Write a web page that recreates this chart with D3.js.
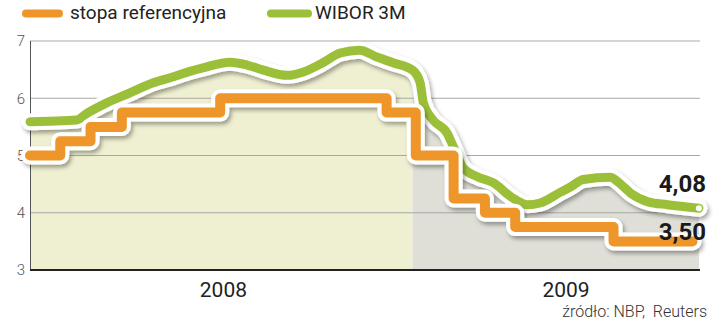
<!DOCTYPE html>
<html>
<head>
<meta charset="utf-8">
<script src="https://cdn.jsdelivr.net/npm/d3@7"></script>
<style>
  body { margin: 0; background: #fff; }
  svg { display: block; font-family: Roboto, "Noto Sans", sans-serif; }
</style>
</head>
<body>
<div id="chart"></div>
<script>
// stopa referencyjna NBP (daty zmian)
const refDates = ["2008-01-02", "2008-01-30", "2008-02-27", "2008-03-27", "2008-06-26",
  "2008-11-27", "2008-12-24", "2009-01-28", "2009-02-26", "2009-03-26", "2009-06-25", "2009-09-06"];
const refRates = [5.00, 5.25, 5.50, 5.75, 6.00, 5.75, 5.00, 4.25, 4.00, 3.75, 3.50, 3.50];

// WIBOR 3M
const wiborDates = ["2008-01-02", "2008-01-20", "2008-02-14", "2008-02-24", "2008-03-13",
  "2008-04-03", "2008-04-25", "2008-05-13", "2008-05-29", "2008-06-10", "2008-07-05",
  "2008-07-21", "2008-08-05", "2008-08-27", "2008-09-11", "2008-09-29", "2008-10-15",
  "2008-11-02", "2008-11-18", "2008-12-03", "2008-12-21", "2008-12-28", "2008-12-31",
  "2009-01-09", "2009-01-22", "2009-01-29", "2009-02-06", "2009-02-19", "2009-03-06",
  "2009-03-22", "2009-04-06", "2009-04-18", "2009-05-07", "2009-05-16", "2009-05-28",
  "2009-06-22", "2009-06-29", "2009-07-11", "2009-07-27", "2009-08-14", "2009-09-12"];
const wiborValues = [5.59, 5.60, 5.62, 5.74, 5.92, 6.09, 6.27, 6.37, 6.47, 6.53, 6.63,
  6.58, 6.49, 6.40, 6.46, 6.62, 6.79, 6.84, 6.72, 6.62, 6.49, 6.27, 5.92,
  5.62, 5.39, 5.10, 4.78, 4.63, 4.52, 4.28, 4.14, 4.17, 4.36, 4.45, 4.58,
  4.62, 4.54, 4.34, 4.19, 4.14, 4.08];

const yTicks = [3, 4, 5, 6, 7];
const gridTicks = [4, 5, 6, 7];
// granice lat (tło pod krzywą)
const bandEdges = ["2008-01-02", "2008-12-21", "2009-09-14"];
const yearLabels = ["2008", "2009"];
const yearLabelDates = ["2008-06-29", "2009-05-12"];
const endLabels = ["4,08", "3,50"];

const parse = d3.timeParse("%Y-%m-%d");

let width = 720, height = 334;
let svg = d3.select("#chart").append("svg")
  .attr("width", width)
  .attr("height", height);

//============ skale ============
let x = d3.scaleTime()
  .domain([parse("2008-01-02"), parse("2009-09-13")])
  .range([30, 700]);

let y = d3.scaleLinear()
  .domain([3, 7])
  .range([270, 41]);

let refData = refDates.map((d, i) => ({ date: parse(d), v: refRates[i] }));
let wiborData = wiborDates.map((d, i) => ({ date: parse(d), v: wiborValues[i] }));

//============ cień ============
let defs = svg.append("defs");
defs.append("filter")
  .attr("id", "shadow")
  .attr("x", "-10%").attr("y", "-10%")
  .attr("width", "120%").attr("height", "130%")
  .append("feDropShadow")
  .attr("dx", 2).attr("dy", 3)
  .attr("stdDeviation", 2.2)
  .attr("flood-color", "#000")
  .attr("flood-opacity", 0.35);

const bandColors = ["#efefd1", "#dfdfd8"];
bandColors.forEach((c, i) => {
  defs.append("clipPath")
    .attr("id", "band" + i)
    .append("rect")
    .attr("x", x(parse(bandEdges[i])))
    .attr("y", 0)
    .attr("width", x(parse(bandEdges[i + 1])) - x(parse(bandEdges[i])))
    .attr("height", height);
});

//============ pole pod WIBOR ============
let area = d3.area()
  .x(d => x(d.date))
  .y0(y(3))
  .y1(d => y(d.v))
  .curve(d3.curveMonotoneX);

bandColors.forEach((c, i) => {
  svg.append("path")
    .datum(wiborData)
    .attr("clip-path", `url(#band${i})`)
    .attr("fill", c)
    .attr("d", area);
});

//============ siatka ============
svg.append("g")
  .selectAll("line")
  .data(gridTicks)
  .join("line")
  .attr("x1", 30)
  .attr("x2", 700)
  .attr("y1", d => y(d))
  .attr("y2", d => y(d))
  .attr("stroke", "#a9a9a4")
  .attr("stroke-width", 1);

svg.append("g")
  .selectAll("text")
  .data(yTicks)
  .join("text")
  .attr("x", 25)
  .attr("y", d => y(d))
  .attr("dy", "0.36em")
  .attr("text-anchor", "end")
  .style("font-size", "15px")
  .style("font-weight", 300)
  .attr("fill", "#555")
  .text(d => d);

// oś pionowa i pozioma
svg.append("line")
  .attr("x1", 30.5).attr("x2", 30.5)
  .attr("y1", y(7)).attr("y2", y(3))
  .attr("stroke", "#555");
svg.append("line")
  .attr("x1", 30).attr("x2", 700)
  .attr("y1", y(3)).attr("y2", y(3))
  .attr("stroke", "#222")
  .attr("stroke-width", 2);

//============ linie ============
let wiborLine = d3.line()
  .x(d => x(d.date))
  .y(d => y(d.v))
  .curve(d3.curveMonotoneX);

let refLine = d3.line()
  .x(d => x(d.date))
  .y(d => y(d.v))
  .curve(d3.curveStepAfter);

function drawSeries(data, gen, color, w) {
  let g = svg.append("g");
  g.append("path")
    .datum(data)
    .attr("d", gen)
    .attr("fill", "none")
    .attr("stroke", "#fff")
    .attr("stroke-width", w + 8)
    .attr("stroke-linejoin", "round")
    .attr("stroke-linecap", "round")
    .attr("filter", "url(#shadow)");
  g.append("path")
    .datum(data)
    .attr("d", gen)
    .attr("fill", "none")
    .attr("stroke", color)
    .attr("stroke-width", w)
    .attr("stroke-linejoin", "round")
    .attr("stroke-linecap", "round");
  return g;
}

let gW = drawSeries(wiborData, wiborLine, "#9cbf3a", 9);
let last = wiborData[wiborData.length - 1];
gW.append("circle")
  .attr("cx", x(last.date))
  .attr("cy", y(last.v))
  .attr("r", 3)
  .attr("fill", "#fff");

drawSeries(refData, refLine, "#ee962a", 10);

//============ etykiety końcowe ============
svg.append("text")
  .attr("x", 706).attr("y", 192)
  .attr("text-anchor", "end")
  .style("font-size", "24px")
  .style("font-weight", 700)
  .attr("fill", "#1a1a1a")
  .text(endLabels[0]);

svg.append("text")
  .attr("x", 706).attr("y", 240)
  .attr("text-anchor", "end")
  .style("font-size", "24px")
  .style("font-weight", 700)
  .attr("fill", "#1a1a1a")
  .text(endLabels[1]);

//============ lata ============
svg.append("g")
  .selectAll("text")
  .data(yearLabels)
  .join("text")
  .attr("x", (d, i) => x(parse(yearLabelDates[i])))
  .attr("y", 297)
  .attr("text-anchor", "middle")
  .style("font-size", "21px")
  .attr("fill", "#222")
  .text(d => d);

svg.append("text")
  .attr("x", 707).attr("y", 317)
  .attr("text-anchor", "end")
  .style("font-size", "16px")
  .style("font-weight", 300)
  .attr("fill", "#333")
  .style("white-space", "pre")
  .text("źródło: NBP,  Reuters");

//============ legenda ============
let legend = svg.append("g");
legend.append("line")
  .attr("x1", 26).attr("x2", 59)
  .attr("y1", 13.5).attr("y2", 13.5)
  .attr("stroke", "#ee962a")
  .attr("stroke-width", 8)
  .attr("stroke-linecap", "round");
legend.append("text")
  .attr("x", 70).attr("y", 19)
  .style("font-size", "19px")
  .attr("fill", "#222")
  .text("stopa referencyjna");
legend.append("line")
  .attr("x1", 271).attr("x2", 308)
  .attr("y1", 13.5).attr("y2", 13.5)
  .attr("stroke", "#9cbf3a")
  .attr("stroke-width", 8)
  .attr("stroke-linecap", "round");
legend.append("text")
  .attr("x", 315).attr("y", 19)
  .style("font-size", "19px")
  .attr("fill", "#222")
  .text("WIBOR 3M");
</script>
</body>
</html>
